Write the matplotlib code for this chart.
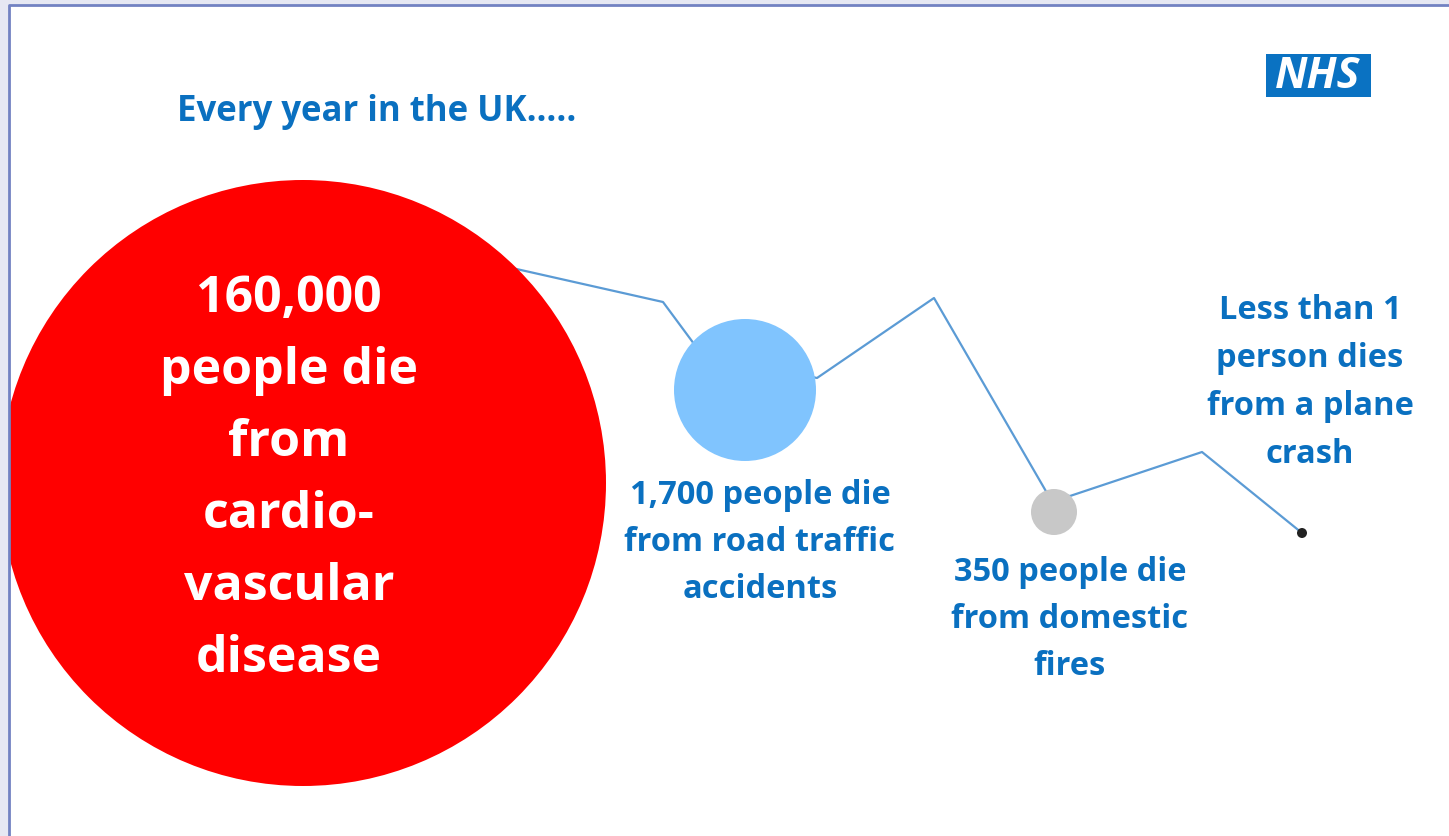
import matplotlib.pyplot as plt
from matplotlib.patches import Circle, Rectangle

# data
causes = ["cardio-vascular disease", "road traffic accidents", "domestic fires", "plane crash"]
deaths = ["160,000", "1,700", "350", "Less than 1"]
labels = [
    ["160,000", "people die", "from", "cardio-", "vascular", "disease"],
    ["1,700 people die", "from road traffic", "accidents"],
    ["350 people die", "from domestic", "fires"],
    ["Less than 1", "person dies", "from a plane", "crash"],
]
title = "Every year in the UK….."

# layout (pixel coords, y down)
bub_x = [303, 745, 1054, 1302]
bub_y = [483, 390, 512, 533]
bub_r = [303, 71, 23, 5]
bub_col = ["#ff0000", "#80c4fe", "#c8c8c8", "#222222"]
lab_x = [289, 760, 1070, 1310]
lab_y0 = [312, 504, 581, 319]
lab_dy = [72, 47, 47, 48]
lab_size = [36, 23.5, 23.5, 23.5]
lab_col = ["white", "#0a70c0", "#0a70c0", "#0a70c0"]

line_x = [512, 663, 700, 817, 934, 1047, 1070, 1202, 1302]
line_y = [268, 302, 352, 378, 298, 493, 496, 452, 533]

fig = plt.figure(figsize=(14.49, 8.36), dpi=100)
ax = fig.add_axes([0, 0, 1, 1])
ax.set_xlim(0, 1449)
ax.set_ylim(836, 0)
ax.axis("off")
fig.patch.set_facecolor("white")

ax.plot(line_x, line_y, color="#5b9bd5", lw=1.6, zorder=1)

for i in range(len(causes)):
    ax.add_patch(Circle((bub_x[i], bub_y[i]), bub_r[i], facecolor=bub_col[i],
                        edgecolor="none", zorder=2))
    for j, line in enumerate(labels[i]):
        ax.text(lab_x[i], lab_y0[i] + j * lab_dy[i], line, ha="center", va="baseline",
                fontsize=lab_size[i], color=lab_col[i], fontweight="bold",
                family="Open Sans", zorder=3)

ax.text(177, 121, title, ha="left", va="baseline", fontsize=25, color="#0a70c0",
        fontweight="bold", family="Open Sans")

# window frame on top/left
ax.add_patch(Rectangle((0, 0), 9, 836, facecolor="#e6e8f3", edgecolor="none", zorder=4))
ax.add_patch(Rectangle((0, 0), 1449, 5, facecolor="#e6e8f3", edgecolor="none", zorder=4))
ax.plot([9, 9, 1449], [836, 5, 5], color="#7282c2", lw=2, zorder=5)

# NHS logo
ax.add_patch(Rectangle((1266, 54), 105, 43, facecolor="#0a72c2", edgecolor="none"))
ax.text(1318, 76, "NHS", ha="center", va="center", fontsize=31, color="white",
        fontweight="bold", fontstyle="italic", family="Open Sans")

fig.savefig("out.png", dpi=100)
